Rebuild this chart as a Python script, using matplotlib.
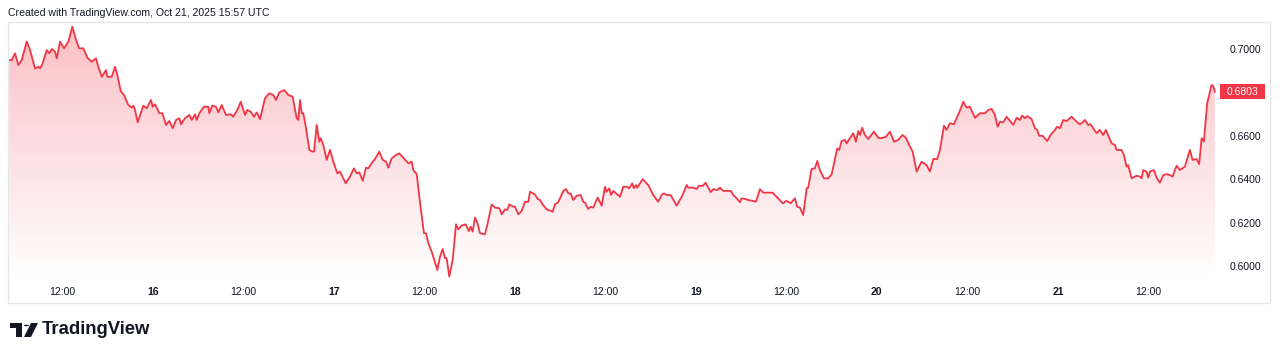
import numpy as np
import pandas as pd
import matplotlib
matplotlib.use('Agg')
import matplotlib.pyplot as plt
import matplotlib.dates as mdates
import matplotlib.transforms as mtransforms
from matplotlib.patches import Rectangle, Polygon, Circle

# hours since 2025-10-15 00:00, and price
hours = [4.95, 5.26, 5.70, 6.14, 6.59, 7.25, 7.69, 8.35, 8.79, 9.02, 9.37, 9.90, 10.25, 10.57, 11.01,
         11.23, 11.67, 12.20, 12.77, 13.30, 13.66, 14.19, 14.76, 15.29, 15.87, 16.44, 16.75, 17.20, 17.77,
         17.94, 18.52, 18.96, 19.27, 19.72, 20.15, 20.72, 21.18, 21.39, 21.61, 21.97, 22.71, 23.16, 23.73,
         23.96, 24.27, 24.84, 25.23, 25.72, 26.16, 26.61, 27.05, 27.49, 27.71, 28.24, 28.81, 29.13, 29.57,
         29.79, 30.14, 30.76, 31.33, 31.47, 31.86, 32.35, 32.66, 33.11, 33.68, 34.30, 34.65, 35.18, 35.63,
         36.20, 36.50, 36.95, 37.39, 37.75, 38.19, 38.85, 39.42, 39.95, 40.31, 40.75, 41.41, 41.94, 42.52,
         43.05, 43.27, 43.49, 43.72, 43.93, 44.29, 44.73, 45.12, 45.35, 45.71, 46.05, 46.24, 46.58, 47.03,
         47.47, 47.91, 48.44, 48.80, 49.55, 50.12, 50.65, 51.01, 51.36, 51.81, 52.24, 52.55, 53.13, 53.44,
         54.01, 54.46, 54.90, 55.20, 55.65, 56.22, 56.66, 57.19, 57.85, 58.30, 58.52, 58.97, 59.40, 59.93,
         60.20, 60.51, 60.96, 61.70, 62.06, 62.41, 62.72, 62.94, 63.29, 63.74, 64.18, 64.48, 64.93, 65.46,
         65.90, 66.13, 66.39, 66.70, 67.00, 67.36, 68.02, 68.33, 68.91, 69.35, 69.92, 70.24, 70.68, 70.98,
         71.25, 71.78, 72.00, 72.44, 72.89, 73.33, 73.77, 73.99, 74.65, 75.01, 75.32, 75.67, 76.20, 77.00,
         77.31, 77.74, 78.41, 78.76, 79.07, 79.39, 79.73, 80.18, 80.71, 81.06, 81.28, 81.72, 82.04, 82.38,
         82.97, 83.50, 83.94, 84.16, 84.51, 84.73, 85.04, 85.92, 86.36, 86.81, 87.16, 87.56, 87.78, 88.05,
         88.22, 88.93, 89.68, 90.34, 91.00, 91.45, 91.76, 92.12, 92.65, 93.44, 94.11, 94.41, 94.77, 94.98,
         95.64, 96.09, 96.40, 96.89, 97.29, 97.95, 98.30, 98.83, 99.18, 99.62, 100.64, 100.95, 101.40,
         101.84, 102.06, 102.50, 102.94, 103.60, 103.96, 104.49, 104.93, 106.17, 106.70, 107.50, 108.03,
         108.56, 109.13, 109.43, 109.79, 110.23, 110.68, 110.89, 111.34, 111.78, 112.09, 112.44, 112.97,
         113.55, 114.00, 114.74, 115.00, 115.32, 115.76, 115.98, 116.42, 116.86, 117.22, 117.52, 117.75,
         118.05, 118.41, 118.85, 119.60, 120.17, 120.63, 121.20, 121.73, 122.26, 122.83, 123.41, 123.85,
         124.38, 124.74, 125.27, 125.93, 126.59, 127.03, 127.47, 128.00, 128.36, 128.89, 129.24, 129.68,
         130.21, 130.92, 131.45, 131.90, 132.33, 133.00, 133.66, 134.32, 134.76, 135.21, 135.65, 136.01,
         136.31, 136.75, 137.20, 138.08, 138.53, 138.96, 139.27, 139.63, 139.93, 140.52, 140.95, 141.26,
         141.52, 141.97, 142.58, 143.04, 143.61, 143.91, 144.27, 144.71, 145.16, 145.82, 146.39, 146.92,
         147.28, 147.58, 148.02, 148.34, 149.13, 149.57, 150.01, 150.37, 151.12, 151.56, 151.79, 152.45,
         152.75, 153.11, 153.32, 153.78, 154.44, 154.88, 155.10, 155.31, 155.76, 155.98, 156.20, 156.73,
         157.09, 157.53, 157.97, 158.42, 158.85, 159.21, 159.74, 160.18, 160.84, 161.07, 161.51, 161.86,
         162.39, 162.74, 163.06, 163.36, 163.80, 164.38, 164.60, 164.82]
prices = [0.6949, 0.6949, 0.6980, 0.6926, 0.6949, 0.7034, 0.6995, 0.6911, 0.6918, 0.6911, 0.6934, 0.6995,
          0.6980, 0.7000, 0.6988, 0.6957, 0.7034, 0.7003, 0.7034, 0.7103, 0.7057, 0.7003, 0.7003, 0.6960,
          0.6941, 0.6957, 0.6918, 0.6872, 0.6903, 0.6872, 0.6872, 0.6918, 0.6880, 0.6806, 0.6788, 0.6742,
          0.6730, 0.6739, 0.6719, 0.6662, 0.6739, 0.6727, 0.6765, 0.6734, 0.6745, 0.6704, 0.6704, 0.6650,
          0.6668, 0.6635, 0.6673, 0.6681, 0.6653, 0.6681, 0.6696, 0.6673, 0.6699, 0.6673, 0.6704, 0.6734,
          0.6734, 0.6704, 0.6739, 0.6734, 0.6708, 0.6742, 0.6696, 0.6699, 0.6688, 0.6719, 0.6757, 0.6696,
          0.6719, 0.6711, 0.6688, 0.6708, 0.6677, 0.6773, 0.6796, 0.6788, 0.6765, 0.6800, 0.6811, 0.6788,
          0.6780, 0.6681, 0.6673, 0.6765, 0.6704, 0.6704, 0.6635, 0.6535, 0.6527, 0.6527, 0.6650, 0.6573,
          0.6589, 0.6558, 0.6489, 0.6535, 0.6481, 0.6427, 0.6435, 0.6381, 0.6412, 0.6450, 0.6427, 0.6432,
          0.6392, 0.6453, 0.6450, 0.6481, 0.6493, 0.6527, 0.6489, 0.6481, 0.6453, 0.6496, 0.6512, 0.6519,
          0.6499, 0.6473, 0.6481, 0.6442, 0.6423, 0.6296, 0.6151, 0.6151, 0.6105, 0.6066, 0.5982, 0.6043,
          0.6078, 0.6036, 0.6036, 0.5951, 0.6028, 0.6192, 0.6169, 0.6186, 0.6192, 0.6161, 0.6181, 0.6158,
          0.6223, 0.6201, 0.6151, 0.6146, 0.6189, 0.6284, 0.6269, 0.6266, 0.6238, 0.6261, 0.6258, 0.6284,
          0.6273, 0.6273, 0.6238, 0.6254, 0.6296, 0.6296, 0.6342, 0.6330, 0.6309, 0.6304, 0.6284, 0.6261,
          0.6250, 0.6284, 0.6294, 0.6346, 0.6355, 0.6335, 0.6333, 0.6304, 0.6324, 0.6327, 0.6296, 0.6292,
          0.6263, 0.6273, 0.6269, 0.6315, 0.6278, 0.6365, 0.6342, 0.6358, 0.6327, 0.6346, 0.6319, 0.6365,
          0.6365, 0.6358, 0.6381, 0.6358, 0.6373, 0.6361, 0.6400, 0.6373, 0.6327, 0.6296, 0.6327, 0.6335,
          0.6327, 0.6327, 0.6278, 0.6319, 0.6342, 0.6373, 0.6361, 0.6361, 0.6355, 0.6370, 0.6369, 0.6384,
          0.6340, 0.6354, 0.6350, 0.6361, 0.6346, 0.6346, 0.6327, 0.6312, 0.6294, 0.6312, 0.6309, 0.6304,
          0.6300, 0.6296, 0.6354, 0.6338, 0.6338, 0.6319, 0.6289, 0.6300, 0.6289, 0.6312, 0.6273, 0.6269,
          0.6235, 0.6358, 0.6361, 0.6447, 0.6450, 0.6484, 0.6442, 0.6404, 0.6404, 0.6423, 0.6542, 0.6535,
          0.6576, 0.6581, 0.6565, 0.6589, 0.6612, 0.6573, 0.6622, 0.6604, 0.6637, 0.6604, 0.6585, 0.6619,
          0.6591, 0.6589, 0.6596, 0.6619, 0.6573, 0.6581, 0.6604, 0.6591, 0.6550, 0.6527, 0.6435, 0.6481,
          0.6465, 0.6435, 0.6493, 0.6493, 0.6535, 0.6647, 0.6627, 0.6658, 0.6653, 0.6708, 0.6757, 0.6730,
          0.6734, 0.6683, 0.6704, 0.6704, 0.6719, 0.6724, 0.6696, 0.6642, 0.6665, 0.6662, 0.6688, 0.6650,
          0.6683, 0.6673, 0.6693, 0.6681, 0.6691, 0.6677, 0.6635, 0.6627, 0.6600, 0.6600, 0.6576, 0.6604,
          0.6627, 0.6642, 0.6635, 0.6673, 0.6668, 0.6688, 0.6668, 0.6653, 0.6662, 0.6673, 0.6650, 0.6653,
          0.6612, 0.6627, 0.6604, 0.6627, 0.6565, 0.6558, 0.6535, 0.6535, 0.6512, 0.6458, 0.6465, 0.6404,
          0.6416, 0.6412, 0.6404, 0.6442, 0.6435, 0.6407, 0.6435, 0.6442, 0.6407, 0.6384, 0.6419, 0.6423,
          0.6419, 0.6412, 0.6462, 0.6442, 0.6458, 0.6484, 0.6535, 0.6489, 0.6493, 0.6469, 0.6589, 0.6573,
          0.6750, 0.6834, 0.6831, 0.6803]

tick_hours = [12, 24, 36, 48, 60, 72, 84, 96, 108, 120, 132, 144, 156]
tick_labels = ['12:00', '16', '12:00', '17', '12:00', '18', '12:00', '19', '12:00', '20', '12:00', '21', '12:00']
# 0.6800 sits under the last-price label, so it is not shown
price_ticks = [0.60, 0.62, 0.64, 0.66, 0.70]

header = 'Created with TradingView.com, Oct 21, 2025 15:57 UTC'

RED = '#f23645'
TXT = '#131722'
plt.rcParams['font.family'] = ['Liberation Sans', 'DejaVu Sans']

W, H = 1280, 357
fig = plt.figure(figsize=(W / 100, H / 100), dpi=100)
fig.patch.set_facecolor('white')


def fx(px):
    return px / W


def fy(py):
    return 1 - py / H


start = pd.Timestamp('2025-10-15 00:00')
times = start + pd.to_timedelta(hours, unit='h')
x = mdates.date2num(times)
y = np.array(prices)

ax = fig.add_axes([fx(9), fy(280), fx(1220) - fx(9), fy(24) - fy(280)])
xmin = mdates.date2num(start + pd.Timedelta(hours=4.9))
xmax = mdates.date2num(start + pd.Timedelta(hours=165.5))
ymin, ymax = 0.59355, 0.71152
ax.set_xlim(xmin, xmax)
ax.set_ylim(ymin, ymax)

# gradient area under the line
grad = np.zeros((256, 1, 4))
grad[:, 0, 0] = 242 / 255
grad[:, 0, 1] = 54 / 255
grad[:, 0, 2] = 69 / 255
grad[:, 0, 3] = np.linspace(0.32, 0.0, 256)
im = ax.imshow(grad, extent=[xmin, xmax, ymin, ymax], aspect='auto', origin='upper', zorder=1)
clip = Polygon(np.column_stack([np.r_[x[0], x, x[-1]], np.r_[ymin, y, ymin]]),
               closed=True, facecolor='none', edgecolor='none')
ax.add_patch(clip)
im.set_clip_path(clip)

ax.plot(x, y, color=RED, lw=1.3, zorder=3, solid_joinstyle='round')

for s in ax.spines.values():
    s.set_visible(False)

ax.set_xticks([mdates.date2num(start + pd.Timedelta(hours=h)) for h in tick_hours])
ax.set_xticklabels(tick_labels)
ax.tick_params(axis='x', length=0, pad=5, labelsize=7.6, labelcolor=TXT)
for lab in ax.get_xticklabels():
    if ':' not in lab.get_text():
        lab.set_fontweight('bold')

ax.yaxis.tick_right()
ax.set_yticks(price_ticks)
ax.set_yticklabels(['{:.4f}'.format(v) for v in price_ticks])
ax.tick_params(axis='y', length=0, pad=7, labelsize=7.5, labelcolor=TXT)

# last price label
bt = mtransforms.blended_transform_factory(ax.transAxes, ax.transData)
axw = (fx(1220) - fx(9)) * W
ppu = (fy(24) - fy(280)) * H / (ymax - ymin)
ax.add_patch(Rectangle((1.0, prices[-1] - 7.5 / ppu), 45 / axw, 15 / ppu, transform=bt,
                       facecolor=RED, edgecolor='none', clip_on=False, zorder=5))
ax.text(1.0 + 22.5 / axw, prices[-1], '{:.4f}'.format(prices[-1]), transform=bt, ha='center', va='center',
        fontsize=7.5, color='white', zorder=6, clip_on=False)

# frame
fig.add_artist(Rectangle((fx(8), fy(303)), fx(1270) - fx(8), fy(22) - fy(303), transform=fig.transFigure,
                         fill=False, edgecolor='#e6e6e6', lw=1))

fig.text(fx(8), fy(13), header, ha='left', va='center', fontsize=7.6, color=TXT)

# logo
lg = dict(transform=fig.transFigure, facecolor=TXT, edgecolor='none')
fig.add_artist(Polygon([(fx(10), fy(323)), (fx(22), fy(323)), (fx(22), fy(337)), (fx(16), fy(337)),
                        (fx(16), fy(328)), (fx(10), fy(328))], closed=True, **lg))
fig.add_artist(Circle((fx(26.5), fy(325.5)), 2.6 / W, **lg))
fig.add_artist(Polygon([(fx(24), fy(337)), (fx(31), fy(337)), (fx(38), fy(323)), (fx(31), fy(323))],
                       closed=True, **lg))
fig.text(fx(42), fy(330), 'TradingView', ha='left', va='center', fontsize=13.3, fontweight='bold', color=TXT)

fig.savefig('out.png', dpi=100)
